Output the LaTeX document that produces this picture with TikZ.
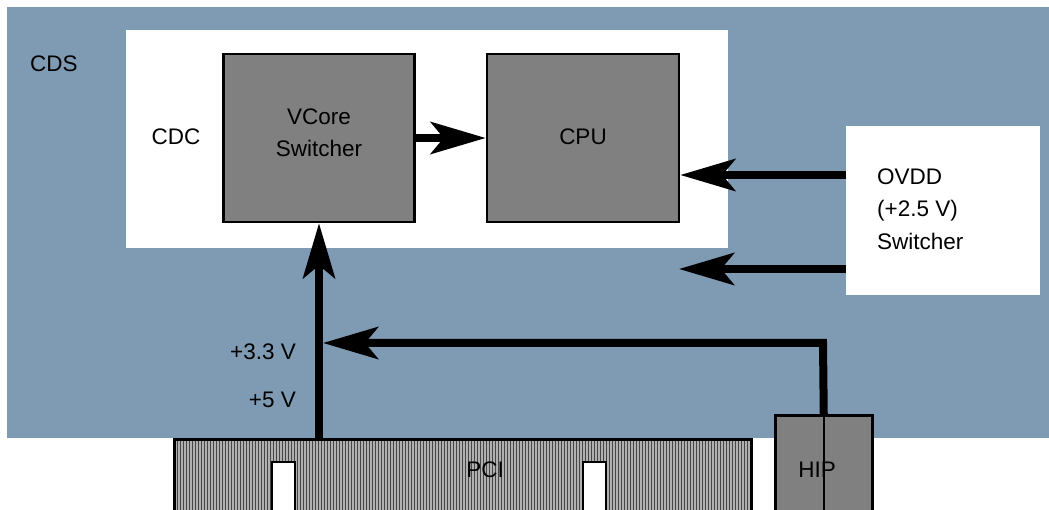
\documentclass[tikz,border=0pt]{standalone}
\usepackage{fontspec}
\setmainfont{Liberation Sans}
\usetikzlibrary{arrows.meta}
\definecolor{cdsblue}{RGB}{127,154,179}
\definecolor{boxgray}{RGB}{128,128,128}
\definecolor{stripelight}{RGB}{176,176,176}
\definecolor{stripedark}{RGB}{70,70,70}
\tikzset{
  lbl/.style={font=\fontsize{22.5}{32.5}\selectfont, inner sep=0pt, text=black},
  graybox/.style={draw=black, line width=2.5pt, fill=boxgray, inner sep=0pt},
  conn/.style={line width=8pt, line join=miter, -{Stealth[length=55pt,width=32pt,inset=13pt]}},
}
\begin{document}
\begin{tikzpicture}[x=1pt,y=-1pt]
\useasboundingbox (0,0) rectangle (1049,510);
\clip (0,0) rectangle (1049,510);
% CDS background
\node[fill=cdsblue, inner sep=0pt, minimum width=1042pt, minimum height=431pt, anchor=north west] (cds) at (7,7) {};
\node[lbl, anchor=base west] (cdslbl) at (30,72) {CDS};
% CDC white area
\node[fill=white, inner sep=0pt, minimum width=602pt, minimum height=218pt, anchor=north west] (cdc) at (126,30) {};
\node[lbl] (cdclbl) at (176,137) {CDC};
% VCore and CPU
\node[graybox, minimum width=191pt, minimum height=168pt] (vcore) at (319,138) {};
\node[lbl, align=center] (vcorelbl) at (319,133) {VCore\\Switcher};
\node[graybox, minimum width=192pt, minimum height=168pt] (cpu) at (583,138) {};
\node[lbl] (cpulbl) at (583,137) {CPU};
% OVDD switcher
\node[fill=white, inner sep=0pt, minimum width=194pt, minimum height=169pt, anchor=north west] (ovdd) at (846,126) {};
\node[lbl, align=left, anchor=west] (ovddlbl) at (877,209) {OVDD\\(+2.5 V)\\Switcher};
% PCI connector
\node[draw=black, line width=2.5pt, fill=stripelight, inner sep=0pt, minimum width=577pt, minimum height=80pt, anchor=north west,
  path picture={\foreach \i in {0,3,...,580} \draw[line width=1.3pt, stripedark] ([xshift=\i pt]path picture bounding box.north west) -- ++(0pt,-100pt);}] (pci) at (173,438) {};
\draw[line width=2.5pt, fill=white] (272,462) rectangle (295,520);
\draw[line width=2.5pt, fill=white] (583,462) rectangle (606,520);
\node[lbl] (pcilbl) at (485,470) {PCI};
% HIP
\node[graybox, minimum width=97pt, minimum height=100pt, anchor=north west] (hip) at (774,414) {};
\draw[line width=2.5pt] (hip.north) -- (hip.south);
\node[lbl] (hiplbl) at (817,470) {HIP};
% voltage labels
\node[lbl, anchor=east] (v33) at (296,352) {+3.3 V};
\node[lbl, anchor=east] (v5) at (296,400) {+5 V};
% connectors
\coordinate (hipturn) at (823,343);
\coordinate (hipend) at (323,343);
\coordinate (ovddfree) at (679,269);
\draw[conn] (vcore.east) -- (cpu.west);
\draw[conn] (ovdd.west |- 0,175) -- (cpu.east |- 0,175);
\draw[conn] (ovdd.west |- ovddfree) -- (ovddfree);
\draw[conn] (vcore.south |- pci.north) -- (vcore.south);
\draw[conn] (hip.north) -- (hipturn) -- (hipend);
\end{tikzpicture}
\end{document}
